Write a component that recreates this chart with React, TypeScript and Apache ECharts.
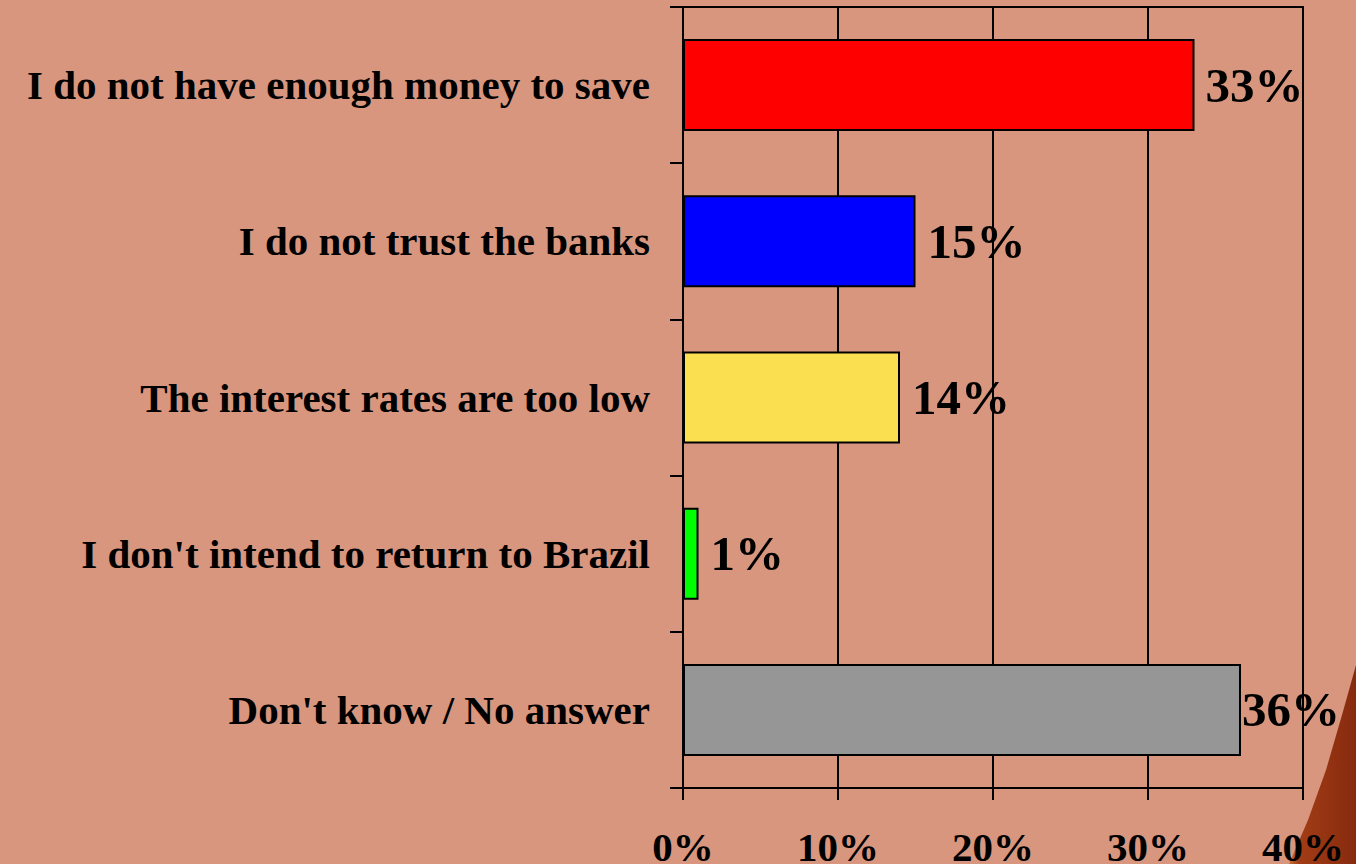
import React, { useEffect, useRef } from "react";
import * as echarts from "echarts";

const categories = [
  "I do not have enough money to save",
  "I do not trust the banks",
  "The interest rates are too low",
  "I don't intend to return to Brazil",
  "Don't know / No answer",
];
const values = [33, 15, 14, 1, 36];
const barColors = ["#FF0000", "#0000FF", "#FAE051", "#00FF00", "#969696"];
const labelGaps = [11, 12, 12, 12, 1];
const xTicks = { min: 0, max: 40, interval: 10 };

const FONT = "'Liberation Serif', 'Times New Roman', serif";

export default function App() {
  const ref = useRef<HTMLDivElement>(null);
  useEffect(() => {
    document.body.style.margin = "0";
    const chart = echarts.init(ref.current!, null, { renderer: "svg" });
    chart.setOption({
      animation: false,
      backgroundColor: "#D8967F",
      graphic: [
        {
          type: "polygon",
          silent: true,
          z: -10,
          shape: {
            points: [
              [1356, 665],
              [1342, 715],
              [1326, 770],
              [1308, 820],
              [1289, 864],
              [1356, 864],
            ],
          },
          style: {
            fill: new echarts.graphic.LinearGradient(0, 0, 1, 0, [
              { offset: 0, color: "#C8703A" },
              { offset: 0.15, color: "#A23C16" },
              { offset: 1, color: "#862A0E" },
            ]),
          },
        },
      ],
      grid: {
        left: 683,
        top: 7,
        width: 620,
        height: 781,
        outerBoundsMode: "none",
        containLabel: false,
        show: true,
        borderColor: "#000",
        borderWidth: 2,
        backgroundColor: "transparent",
      },
      xAxis: {
        type: "value",
        min: xTicks.min,
        max: xTicks.max,
        interval: xTicks.interval,
        axisLine: { show: true, lineStyle: { color: "#000", width: 2 } },
        axisTick: { show: true, length: 12, lineStyle: { color: "#000", width: 2 } },
        splitLine: { show: true, lineStyle: { color: "#000", width: 2 } },
        axisLabel: {
          formatter: "{value}%",
          color: "#000",
          fontFamily: FONT,
          fontWeight: "bold",
          fontSize: 41,
          margin: 38,
        },
      },
      yAxis: {
        type: "category",
        inverse: true,
        data: categories,
        axisLine: { show: true, lineStyle: { color: "#000", width: 2 } },
        axisTick: { show: true, length: 13, lineStyle: { color: "#000", width: 2 } },
        axisLabel: {
          color: "#000",
          fontFamily: FONT,
          fontWeight: "bold",
          fontSize: 41,
          margin: 33,
        },
      },
      series: [
        {
          type: "bar",
          barWidth: 92,
          data: values.map((v, i) => ({
            value: v,
            itemStyle: { color: barColors[i], borderColor: "#000", borderWidth: 2 },
            label: { distance: labelGaps[i] },
          })),
          label: {
            show: true,
            position: "right",
            formatter: "{c}%",
            color: "#000",
            fontFamily: FONT,
            fontWeight: "bold",
            fontSize: 49,
          },
        },
      ],
    });
    return () => chart.dispose();
  }, []);
  return (
    <div
      ref={ref}
      style={{ position: "absolute", left: 0, top: 0, width: 1356, height: 864 }}
    />
  );
}
